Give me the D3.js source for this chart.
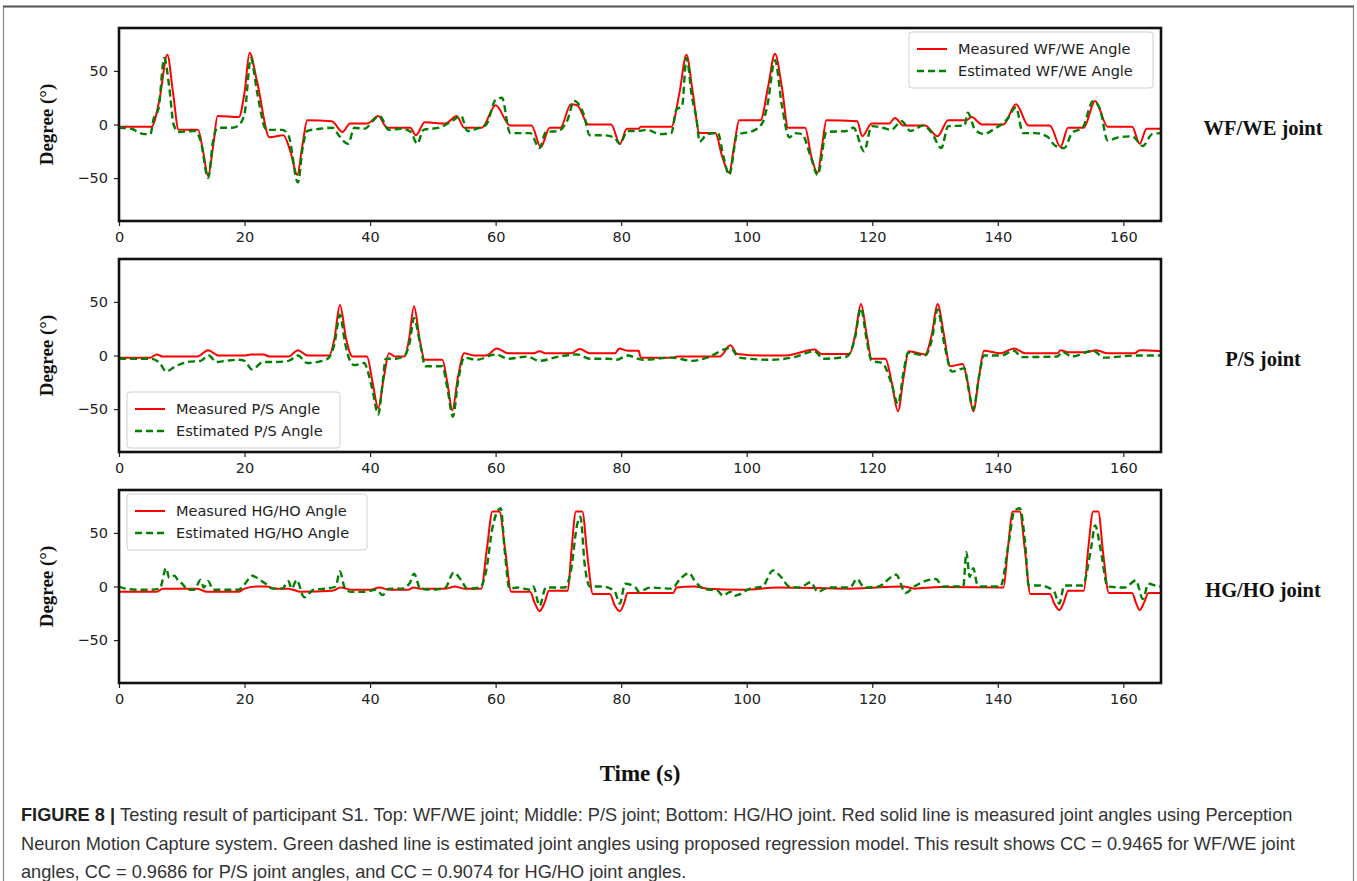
<!DOCTYPE html>
<html lang="en">
  <head>
    <meta charset="UTF-8">
    <script src="https://cdn.jsdelivr.net/npm/d3@7"></script>
    <style>
      body { margin: 0; background: #fff; }
      svg { display: block; }
    </style>
    <title>Figure 8</title>
  </head>
  <body>
    <script>
      // Joint angle traces as [time (s), degree] pairs

      let timeTicks = [0, 20, 40, 60, 80, 100, 120, 140, 160];
      let degreeTicks = [-50, 0, 50];
      let timeRange = [0, 166];
      let degreeRange = [-90, 90];

      let jointNames = ['WF/WE joint', 'P/S joint', 'HG/HO joint'];
      let measuredNames = ['Measured WF/WE Angle', 'Measured P/S Angle', 'Measured HG/HO Angle'];
      let estimatedNames = ['Estimated WF/WE Angle', 'Estimated P/S Angle', 'Estimated HG/HO Angle'];

      let wfweMeasured = [[0,-2],[5.2,-2],[6.5,25],[7.7,65],[8.6,30],[9.5,-5],[12.6,-5],[13.4,-25],[14.2,-48],[15,-20],
        [15.7,8],[19.1,7],[20,30],[20.8,67],[22,40],[24,-12],[26.2,-10],[27.3,-25],[28.4,-47],[29.2,-20],[30,4],
        [33.9,3],[35.6,-7],[36.8,1],[39.6,1],[41.3,8],[42.7,-3],[46.4,-3],[47.3,-10],[48.7,2],[52,1],[53.8,8],
        [55,-3],[57.8,-3],[60,18],[62.3,-1],[65.7,-1],[67.2,-21],[68.6,-3],[70.3,-3],[72,19],[73,18],[74.8,0],
        [78.4,0],[79.8,-18],[80.9,-4],[82.8,-4],[83.1,-2],[88,-2],[89.3,30],[90.4,65],[91.4,30],[92.5,-8],[95,-8],
        [96.1,-30],[97.2,-45],[98,-20],[98.8,4],[102.2,4],[103.4,35],[104.5,66],[105.6,35],[106.6,-3],[109.3,-3],
        [110.3,-30],[111.3,-45],[112,-20],[112.7,4],[117.6,3],[118.4,-11],[119.9,1],[122.7,1],[123.6,6],[125,-1],
        [128.4,-1],[130.4,-11],[132.1,4],[135,4],[135.8,7],[137.5,0],[140.9,0],[142.9,19],[144.9,-1],[148.3,-1],
        [150,-21],[151.2,-3],[153.7,-3],[155.5,22],[157.5,-2],[161.4,-2],[162.6,-18],[163.7,-4],[166,-4]];

      let wfweEstimated = [[0,-3],[2,-4],[3,-7],[4,-9],[5,-9],[5.5,5],[6.3,15],[7.2,62],[8,35],[8.7,0],[9.5,-7],
        [12,-6],[13,-15],[14.2,-50],[15,-15],[15.7,-3],[18,-3],[19,-1],[20,10],[21,62],[22,30],[23.5,-5],[26,-5],
        [27,-10],[28.5,-54],[29.3,-20],[30,-6],[32,-4],[34,-3],[35,-10],[36.5,-18],[37.5,-3],[39,-4],[41.5,8],
        [43,-5],[45,-4],[46.5,-7],[47.5,-18],[48.5,-5],[51,-3],[53,3],[54.5,8],[55.5,-6],[57,-4],[58.5,0],[60,23],
        [61,25],[62.3,-8],[65.5,-8],[67,-22],[68,-7],[70,-6],[71.5,5],[72.5,22],[74,10],[75,-10],[77,-10],
        [78.9,-12],[79.8,-18],[81,-6],[82.8,-6],[84,-5],[86.3,-9],[88,-8],[88.8,14],[89.7,17],[90.4,62],[91.3,25],
        [92,5],[92.5,-16],[93.7,-9],[95.4,-8],[96.3,-30],[97.2,-47],[98.5,-9],[99.4,-8],[101,-6],[102.5,1.5],
        [103.3,18],[104.5,60],[105.6,18],[106.8,-12],[107.6,-8],[108.8,-9],[110.2,-30],[111.3,-47],[112.7,-7],
        [115.9,-6],[117,-3],[118.7,-25],[119.9,-1.5],[121.6,-3],[123,-5],[124.7,3],[126.1,-6],[128.1,-1],
        [129.5,-8],[131,-22],[132.1,-1.5],[134.7,-1],[135.2,11],[136.4,-5],[137.8,-9],[139.2,-5],[141.5,5],
        [142.9,16],[144,-8],[146,-8],[147.8,-11],[149.2,-20],[150.6,-22],[151.8,-8],[153.5,-3],[155.2,22],
        [156.3,14],[157.5,-15],[159.2,-12],[161.4,-11],[163.1,-20],[164.6,-9],[166,-8]];

      let psMeasured = [[0,-2],[5,-2],[6,1],[7,-1],[12.5,-1],[14.2,5],[15.8,0],[20,0],[21,1],[23,1],[24,-1],[27,-1],
        [28.5,5],[30,0],[33.5,0],[34.3,15],[35.2,47],[36.2,15],[37.2,-1],[39.5,-1],[40.4,-25],[41.3,-49],[42.2,-20],
        [43,2],[44,-1],[45.5,-1],[46.2,15],[47,46],[47.9,15],[48.7,-4],[51.5,-4],[52.3,-25],[53.1,-51],[54,-20],
        [55,2],[56.5,0],[58.5,0],[60.2,6.5],[62,2],[66,2],[67,4],[68,2],[72,2],[73.4,6],[75,2],[79,2],[79.7,6.5],
        [81,4.5],[82.8,4.5],[83.1,-2],[88,-2],[89,-1],[95.7,-1],[97.4,9.5],[98.5,1.5],[102.8,0],[106.2,0],
        [110.8,5.5],[111.9,1.5],[116.4,1.5],[117.3,20],[118.2,48],[119.1,20],[119.9,-3],[122.1,-3],[123.1,-25],
        [124.1,-52],[125,-20],[125.8,4],[128.4,1],[129.5,20],[130.4,48],[131.4,20],[132.4,-10],[134.4,-8],
        [135.2,-25],[136.1,-52],[137,-20],[137.8,4.5],[140.4,2],[142.6,6.5],[144.4,2],[149.5,2],[150,5],[151.2,3],
        [154,3],[155.7,5],[157.5,2],[161.8,2],[162.6,5],[166,4]];

      let psEstimated = [[0,-3],[5,-3],[6.5,-7],[7.5,-15],[9,-10],[11,-6],[13,-5],[14.3,0],[15.5,-6],[17,-5],
        [19,-4],[20,-5],[21.2,-13],[23,-6],[25,-6],[27,-5],[28.5,0],[30,-7],[33,-4],[34.3,10],[35.2,38],[36,12],
        [36.8,-5],[37.5,-9],[39,-7],[40.3,-30],[41.3,-55],[42,-25],[42.5,-3],[44,-3],[45.5,0],[46.3,12],[47,35],
        [48,10],[48.8,-10],[51.5,-10],[52.3,-30],[53.2,-57],[54,-25],[55,-2],[57,-4],[60,1],[62,-3],[65,-1],
        [67,-5],[70,-1],[73,1],[75,-3],[78,-3],[79.3,-4],[81,0],[83.4,-4],[88,-2],[91.4,-5],[93.7,-2],[97.4,7],
        [98.8,-2],[103.9,-4],[107.9,-1],[110.8,4],[112.2,-3],[115.9,-1],[117.2,15],[118.2,44],[119.1,15],
        [119.9,-5],[121.6,-7],[123,-25],[124.1,-45],[125,-15],[125.7,2.5],[128.4,0],[129.5,15],[130.4,43],
        [131.5,10],[132.7,-15],[134.7,-12],[135.3,-30],[136.1,-50],[137,-20],[137.8,0],[140.5,0],[142.6,4.5],
        [143.8,-1.5],[149.5,-1],[150.3,3.5],[151.8,-1],[155.2,4.5],[156.9,-2],[162,0],[166,0]];

      let hghoMeasured = [[0,-5],[6,-5],[7,-2],[12.5,-2],[14,-5],[19,-5],[20,-2],[22,0],[23.5,0],[25,-2],[27,-2],
        [29,-5],[34,-4],[35.3,-1],[37,-3],[40,-3],[41.5,-1],[43,-3],[46,-3],[47,-1],[48,-2],[52,-2],[53.5,0],
        [55,-2],[57.7,-2],[58.6,35],[59.5,70],[60.6,70],[61.5,35],[62.5,-5],[65.5,-5],[66.2,-15],[67,-23],
        [67.8,-15],[68.5,-4],[71.5,-4],[72.1,35],[72.8,70],[73.8,70],[74.6,30],[75.5,-7],[78.2,-7],[79,-18],
        [79.8,-23],[80.5,-15],[81,-6],[88.3,-6],[88.8,-1],[91.7,0],[93.7,-2],[99.4,-3],[105.1,-1],[116.4,-2],
        [125,0],[126.7,-2],[130.7,-0.5],[140.9,-1],[141.6,35],[142.4,70],[143.5,70],[144.3,35],[145.2,-7],
        [148.3,-7],[149,-16],[149.8,-22],[150.5,-15],[151.2,-4],[153.7,-4],[154.4,35],[155.2,70],[156,70],
        [156.8,30],[157.7,-6],[161.4,-6],[162,-15],[162.6,-22],[163.3,-15],[164,-6],[166,-6]];

      let hghoEstimated = [[0,0],[1,-2],[3,-3],[5,-3],[6.5,-2],[7.5,17],[8,8],[8.8,10],[9.5,5],[10,3],[11,-3],
        [12,-3],[13,6],[13.5,-1],[14.2,5],[15,-3],[17,-3],[19,-3],[20,2],[21.2,10],[22.5,6],[23.5,2],[24.5,-2],
        [26,-2],[27,5],[27.5,-2],[28.3,6],[29.5,-10],[31,-3],[33,-2],[34.5,0],[35.2,14],[36,-2],[37,-5],[39,-5],
        [41,-3],[42,-8],[43,-2],[45,-2],[46.3,3],[47,12],[48,-2],[50,-3],[52,-1],[53.3,13],[54.5,6],[55.5,-2],
        [57.5,-1],[58.5,15],[59.5,55],[60.8,73],[61.5,30],[62.2,-2],[63.5,-1],[65.5,-3],[66,0],[67,-18],[68,-1],
        [71,-1],[72,15],[73,58],[73.5,65],[74.2,20],[75,0],[77,0],[78.9,-4],[79.8,-16],[80.6,2.5],[82.3,-1],
        [82.8,-5],[84.6,-1],[88,-2],[89.4,7],[90.8,12.6],[91.7,5.6],[93.1,-2],[95.4,-4],[96.2,-8.5],[97.4,-5],
        [98.2,-8.5],[100.5,-2],[102.5,0],[104.2,15],[105.3,10],[106.8,0],[108.5,-1],[110.2,4],[111.3,-5],[113,-1],
        [116.4,-1],[117.6,7],[118.7,-1],[121,0],[123.8,11],[125.3,-6],[126.7,0],[130.1,7],[131.3,0],[134.5,0],
        [135,32],[135.5,9],[136.1,17],[136.7,2.5],[137.5,0],[140.4,0],[141.8,43],[142.6,70],[143.5,73],
        [144.4,37],[144.9,1],[146.6,1],[148.9,-4],[149.8,-16],[150.6,1],[153.5,1],[154.9,37],[155.5,57],
        [156.4,34],[157.5,0],[160.2,-1],[162,5.6],[163.1,-11.6],[164,2.5],[165.7,0],[166,0]];

      let measuredSeries = [wfweMeasured, psMeasured, hghoMeasured];
      let estimatedSeries = [wfweEstimated, psEstimated, hghoEstimated];

      let captionLines = [
        ['FIGURE 8 | ', 'Testing result of participant S1. Top: WF/WE joint; Middle: P/S joint; Bottom: HG/HO joint. Red solid line is measured joint angles using Perception'],
        ['', 'Neuron Motion Capture system. Green dashed line is estimated joint angles using proposed regression model. This result shows CC = 0.9465 for WF/WE joint'],
        ['', 'angles, CC = 0.9686 for P/S joint angles, and CC = 0.9074 for HG/HO joint angles.']
      ];

      // Layout
      let w = 1357;
      let h = 881;
      let plotLeft = 119;
      let plotRight = 1161;
      let panelTops = [28, 259, 490];
      let panelH = 193;
      let legendSpots = ['upper right', 'lower left', 'upper left'];

      let svg = d3.select('body')
                  .append('svg')
                  .attr('width', w)
                  .attr('height', h);

      // Outer figure frame
      svg.append('rect')
          .attr('x', 3.5)
          .attr('y', 6.5)
          .attr('width', 1350)
          .attr('height', h)
          .attr('fill', 'none')
          .attr('stroke', '#8a8a8a')
          .attr('stroke-width', 1.2);
      svg.append('line')
          .attr('x1', 3).attr('x2', 1354)
          .attr('y1', 6.5).attr('y2', 6.5)
          .attr('stroke', '#555')
          .attr('stroke-width', 2);

      let xScale = d3.scaleLinear()
                      .domain(timeRange)
                      .range([plotLeft, plotRight]);

      let tickFont = '"DejaVu Sans", sans-serif';
      let serif = '"Liberation Serif", "Times New Roman", serif';

      panelTops.forEach((top, i) => {
        let yScale = d3.scaleLinear()
                        .domain(degreeRange)
                        .range([top + panelH, top]);

        let g = svg.append('g');

        g.append('clipPath')
            .attr('id', 'clip' + i)
          .append('rect')
            .attr('x', plotLeft)
            .attr('y', top)
            .attr('width', plotRight - plotLeft)
            .attr('height', panelH);

        // Axes
        let xAxis = g.append('g')
            .attr('transform', `translate(0,${top + panelH})`)
            .call(d3.axisBottom(xScale).tickValues(timeTicks).tickSize(5).tickPadding(6));
        let yAxis = g.append('g')
            .attr('transform', `translate(${plotLeft},0)`)
            .call(d3.axisLeft(yScale).tickValues(degreeTicks).tickSize(5).tickPadding(6));
        [xAxis, yAxis].forEach(a => {
          a.select('.domain').remove();
          a.selectAll('line').attr('stroke', '#222').attr('stroke-width', 1.2);
          a.selectAll('text')
              .attr('font-family', tickFont)
              .attr('font-size', 14.5)
              .attr('fill', '#222');
        });

        // Lines
        let line = d3.line()
                      .x(d => xScale(d[0]))
                      .y(d => yScale(d[1]))
                      .curve(d3.curveMonotoneX);

        g.append('path')
            .datum(measuredSeries[i])
            .attr('clip-path', `url(#clip${i})`)
            .attr('d', line)
            .attr('fill', 'none')
            .attr('stroke', '#ff0000')
            .attr('stroke-width', 2);

        g.append('path')
            .datum(estimatedSeries[i])
            .attr('clip-path', `url(#clip${i})`)
            .attr('d', line)
            .attr('fill', 'none')
            .attr('stroke', '#008000')
            .attr('stroke-width', 2.4)
            .attr('stroke-dasharray', '7,4');

        // Plot frame
        g.append('rect')
            .attr('x', plotLeft)
            .attr('y', top)
            .attr('width', plotRight - plotLeft)
            .attr('height', panelH)
            .attr('fill', 'none')
            .attr('stroke', '#111')
            .attr('stroke-width', 2.6);

        // Y label
        g.append('text')
            .attr('transform', `translate(46,${top + panelH / 2}) rotate(-90)`)
            .attr('text-anchor', 'middle')
            .attr('dy', '0.35em')
            .attr('font-family', serif)
            .attr('font-weight', 'bold')
            .attr('font-size', 19)
            .attr('fill', '#111')
            .text('Degree (°)');

        // Joint name on the right
        g.append('text')
            .attr('x', 1263)
            .attr('y', top + panelH / 2 + 3)
            .attr('text-anchor', 'middle')
            .attr('dy', '0.35em')
            .attr('font-family', serif)
            .attr('font-weight', 'bold')
            .attr('font-size', 20.5)
            .attr('fill', '#111')
            .text(jointNames[i]);

        // Legend
        let labels = [measuredNames[i], estimatedNames[i]];
        let lw = i === 0 ? 244 : (i === 1 ? 213 : 240);
        let lh = 56;
        let lx = legendSpots[i].includes('right') ? plotRight - lw - 8 : plotLeft + 8;
        let ly = legendSpots[i].includes('upper') ? top + 4 : top + panelH - lh - 4;
        let lg = g.append('g').attr('transform', `translate(${lx},${ly})`);
        lg.append('rect')
            .attr('width', lw)
            .attr('height', lh)
            .attr('rx', 3)
            .attr('fill', 'rgba(255,255,255,0.85)')
            .attr('stroke', '#d0d0d0')
            .attr('stroke-width', 1);
        labels.forEach((lab, k) => {
          let yy = 17 + k * 22;
          lg.append('line')
              .attr('x1', 8).attr('x2', 38)
              .attr('y1', yy).attr('y2', yy)
              .attr('stroke', k === 0 ? '#ff0000' : '#008000')
              .attr('stroke-width', k === 0 ? 2 : 2.4)
              .attr('stroke-dasharray', k === 0 ? null : '7,4');
          lg.append('text')
              .attr('x', 49)
              .attr('y', yy)
              .attr('dy', '0.35em')
              .attr('font-family', tickFont)
              .attr('font-size', 14.5)
              .attr('fill', '#222')
              .text(lab);
        });
      });

      // Shared x label
      svg.append('text')
          .attr('x', (plotLeft + plotRight) / 2)
          .attr('y', 773)
          .attr('text-anchor', 'middle')
          .attr('dy', '0.35em')
          .attr('font-family', serif)
          .attr('font-weight', 'bold')
          .attr('font-size', 23)
          .attr('fill', '#111')
          .text('Time (s)');

      // Caption
      let cap = svg.append('g')
          .attr('font-family', '"Liberation Sans", Arial, sans-serif')
          .attr('font-size', 18.2)
          .attr('fill', '#333');
      captionLines.forEach((parts, k) => {
        let t = cap.append('text')
            .attr('x', 21)
            .attr('y', 821 + k * 28.5);
        if (parts[0]) {
          t.append('tspan').attr('font-weight', 'bold').attr('fill', '#222').text(parts[0]);
        }
        t.append('tspan').text(parts[1]);
      });
    </script>
  </body>
</html>
